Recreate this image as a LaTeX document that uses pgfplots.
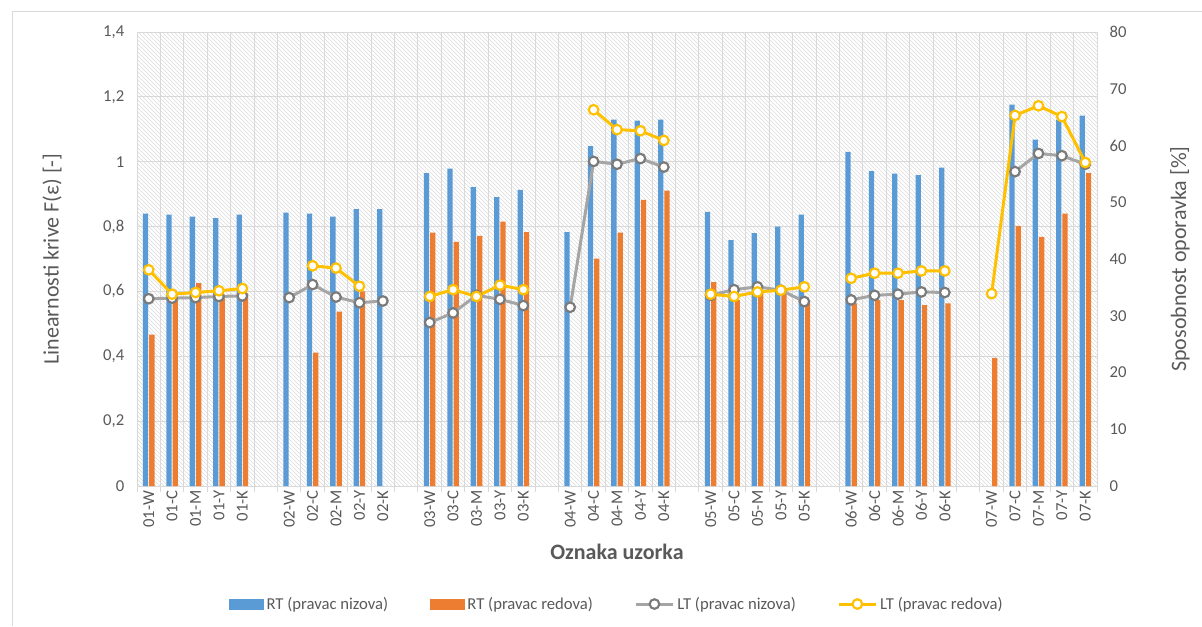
\documentclass[border=0pt]{standalone}
\usepackage{fontspec}
\setmainfont{Carlito}
\usepackage{pgfplots}
\usepackage{pgfplotstable}
\pgfplotsset{compat=1.18}
\usetikzlibrary{patterns}

\definecolor{cblue}{HTML}{5B9BD5}
\definecolor{corange}{HTML}{ED7D31}
\definecolor{cgrey}{HTML}{A5A5A5}
\definecolor{cgreymk}{HTML}{7A7A7A}
\definecolor{cyellow}{HTML}{FFC000}
\definecolor{ctext}{HTML}{595959}
\definecolor{cgrid}{HTML}{D9D9D9}

\newcommand\tfont{\fontsize{12.5pt}{15pt}\selectfont}
\newcommand\lfont{\fontsize{16.5pt}{19pt}\selectfont}

% x = slot index (gaps at 5, 11, 17, 23, 29, 35)
% b = RT nizova, o = RT redova (left axis), g = LT nizova, y = LT redova (right axis, %)
\pgfplotstableread{
x  b     o     g    y
0  0.840 0.467 33.0 38.1
1  0.837 0.575 33.1 33.8
2  0.831 0.626 33.2 34.1
3  0.826 0.590 33.4 34.4
4  0.837 0.594 33.5 34.8
5  nan   nan   nan  nan
6  0.843 nan   33.2 nan
7  0.840 0.411 35.5 38.8
8  0.831 0.538 33.3 38.4
9  0.854 0.600 32.3 35.2
10 0.854 nan   32.6 nan
11 nan   nan   nan  nan
12 0.965 0.781 28.8 33.4
13 0.979 0.753 30.5 34.6
14 0.922 0.771 33.6 33.4
15 0.891 0.815 32.9 35.4
16 0.913 0.783 31.8 34.6
17 nan   nan   nan  nan
18 0.783 nan   31.5 nan
19 1.048 0.701 57.2 66.3
20 1.130 0.781 56.7 62.8
21 1.127 0.882 57.7 62.6
22 1.130 0.911 56.2 60.9
23 nan   nan   nan  nan
24 0.845 0.629 33.6 33.8
25 0.758 0.573 34.6 33.4
26 0.780 0.600 35.1 34.2
27 0.800 0.594 34.5 34.5
28 0.837 0.573 32.5 35.1
29 nan   nan   nan  nan
30 1.030 0.563 32.8 36.6
31 0.971 0.573 33.6 37.5
32 0.963 0.573 33.8 37.5
33 0.959 0.558 34.2 37.9
34 0.982 0.563 34.1 37.9
35 nan   nan   nan  nan
36 nan   0.395 nan  33.9
37 1.176 0.802 55.4 65.3
38 1.068 0.768 58.6 67.0
39 1.130 0.840 58.2 65.1
40 1.142 0.965 56.7 57.0
}\data

\pgfplotsset{
  common/.style={
    scale only axis, width=720pt, height=340.5pt,
    at={(102.75pt,105pt)}, anchor=south west,
    xmin=-0.5, xmax=40.5,
    major tick length=0pt,
    ticklabel style={font=\tfont, color=ctext},
    /pgf/number format/.cd, use comma, assume math mode=true,
  },
  barleg/.style={legend image code/.code={\fill[#1] (0pt,-3.75pt) rectangle (26pt,3.75pt);}},
  lineleg/.style={legend image code/.code={\draw[mark repeat=2, mark phase=2, ##1] plot coordinates {(0pt,0pt) (14pt,0pt) (28pt,0pt)};}},
}

\begin{document}
\begin{tikzpicture}
\path[use as bounding box] (0,0) rectangle (901.5pt,469.5pt);
\draw[cgrid, line width=0.75pt] (9.5pt,0pt) -- (9.5pt,460.7pt) -- (901.5pt,460.7pt);

\begin{axis}[common,
  ymin=0, ymax=1.4, ytick={0,0.2,...,1.4},
  axis line style={draw=cgrid, line width=0.75pt},
  axis background/.style={pattern=north west lines, pattern color=black!14},
  ymajorgrids, xminorgrids,
  grid style={cgrid, line width=0.75pt},
  minor xtick={-0.5,0.5,...,40.5},
  minor tick length=4.5pt, tick align=outside,
  xtick pos=bottom, ytick pos=left,
  minor tick style={cgrid, line width=0.75pt},
  xtick={0,1,2,3,4,6,7,8,9,10,12,13,14,15,16,18,19,20,21,22,24,25,26,27,28,30,31,32,33,34,36,37,38,39,40},
  xticklabels={01-W,01-C,01-M,01-Y,01-K,02-W,02-C,02-M,02-Y,02-K,03-W,03-C,03-M,03-Y,03-K,04-W,04-C,04-M,04-Y,04-K,05-W,05-C,05-M,05-Y,05-K,06-W,06-C,06-M,06-Y,06-K,07-W,07-C,07-M,07-Y,07-K},
  xticklabel style={rotate=90, anchor=east},
  yticklabel style={xshift=-6pt},
  ybar=0.75pt, bar width=3.975pt,
  xlabel={\bfseries Oznaka uzorka},
  xlabel style={font=\lfont, color=ctext, at={(axis description cs:0.5,-0.145)}, anchor=center},
  ylabel={Linearnosti krive F(ε) [-]},
  ylabel style={font=\lfont, color=ctext, at={(axis description cs:-0.0885,0.5)}, anchor=center, rotate=0},
]
\addplot[fill=cblue, draw=none] table[x=x, y=b] {\data};
\addplot[fill=corange, draw=none] table[x=x, y=o] {\data};
\end{axis}

\begin{axis}[common,
  ymin=0, ymax=80, ytick={0,10,...,80},
  axis x line=none, axis y line*=right,
  axis line style={draw=none},
  yticklabel style={xshift=6pt},
  unbounded coords=jump,
  ylabel={Sposobnost oporavka [\%]},
  ylabel style={font=\lfont, color=ctext, at={(axis description cs:1.0865,0.5)}, anchor=center, rotate=0},
  legend style={at={(0.5,-0.26)}, anchor=center, draw=none, fill=none,
    font=\tfont, text=ctext, legend columns=4,
    /tikz/every even column/.append style={column sep=29pt}},
  legend cell align=left,
]
\addlegendimage{barleg=cblue}
\addlegendentry{RT (pravac nizova)}
\addlegendimage{barleg=corange}
\addlegendentry{RT (pravac redova)}
\addplot[cgrey, line width=2.25pt, mark=*, mark size=3.6pt,
  mark options={fill=white, draw=cgreymk, line width=1.6pt}, lineleg]
  table[x=x, y=g] {\data};
\addlegendentry{LT (pravac nizova)}
\addplot[cyellow, line width=2.25pt, mark=*, mark size=3.6pt,
  mark options={fill=white, draw=cyellow, line width=1.6pt}, lineleg]
  table[x=x, y=y] {\data};
\addlegendentry{LT (pravac redova)}
\end{axis}
\end{tikzpicture}
\end{document}
